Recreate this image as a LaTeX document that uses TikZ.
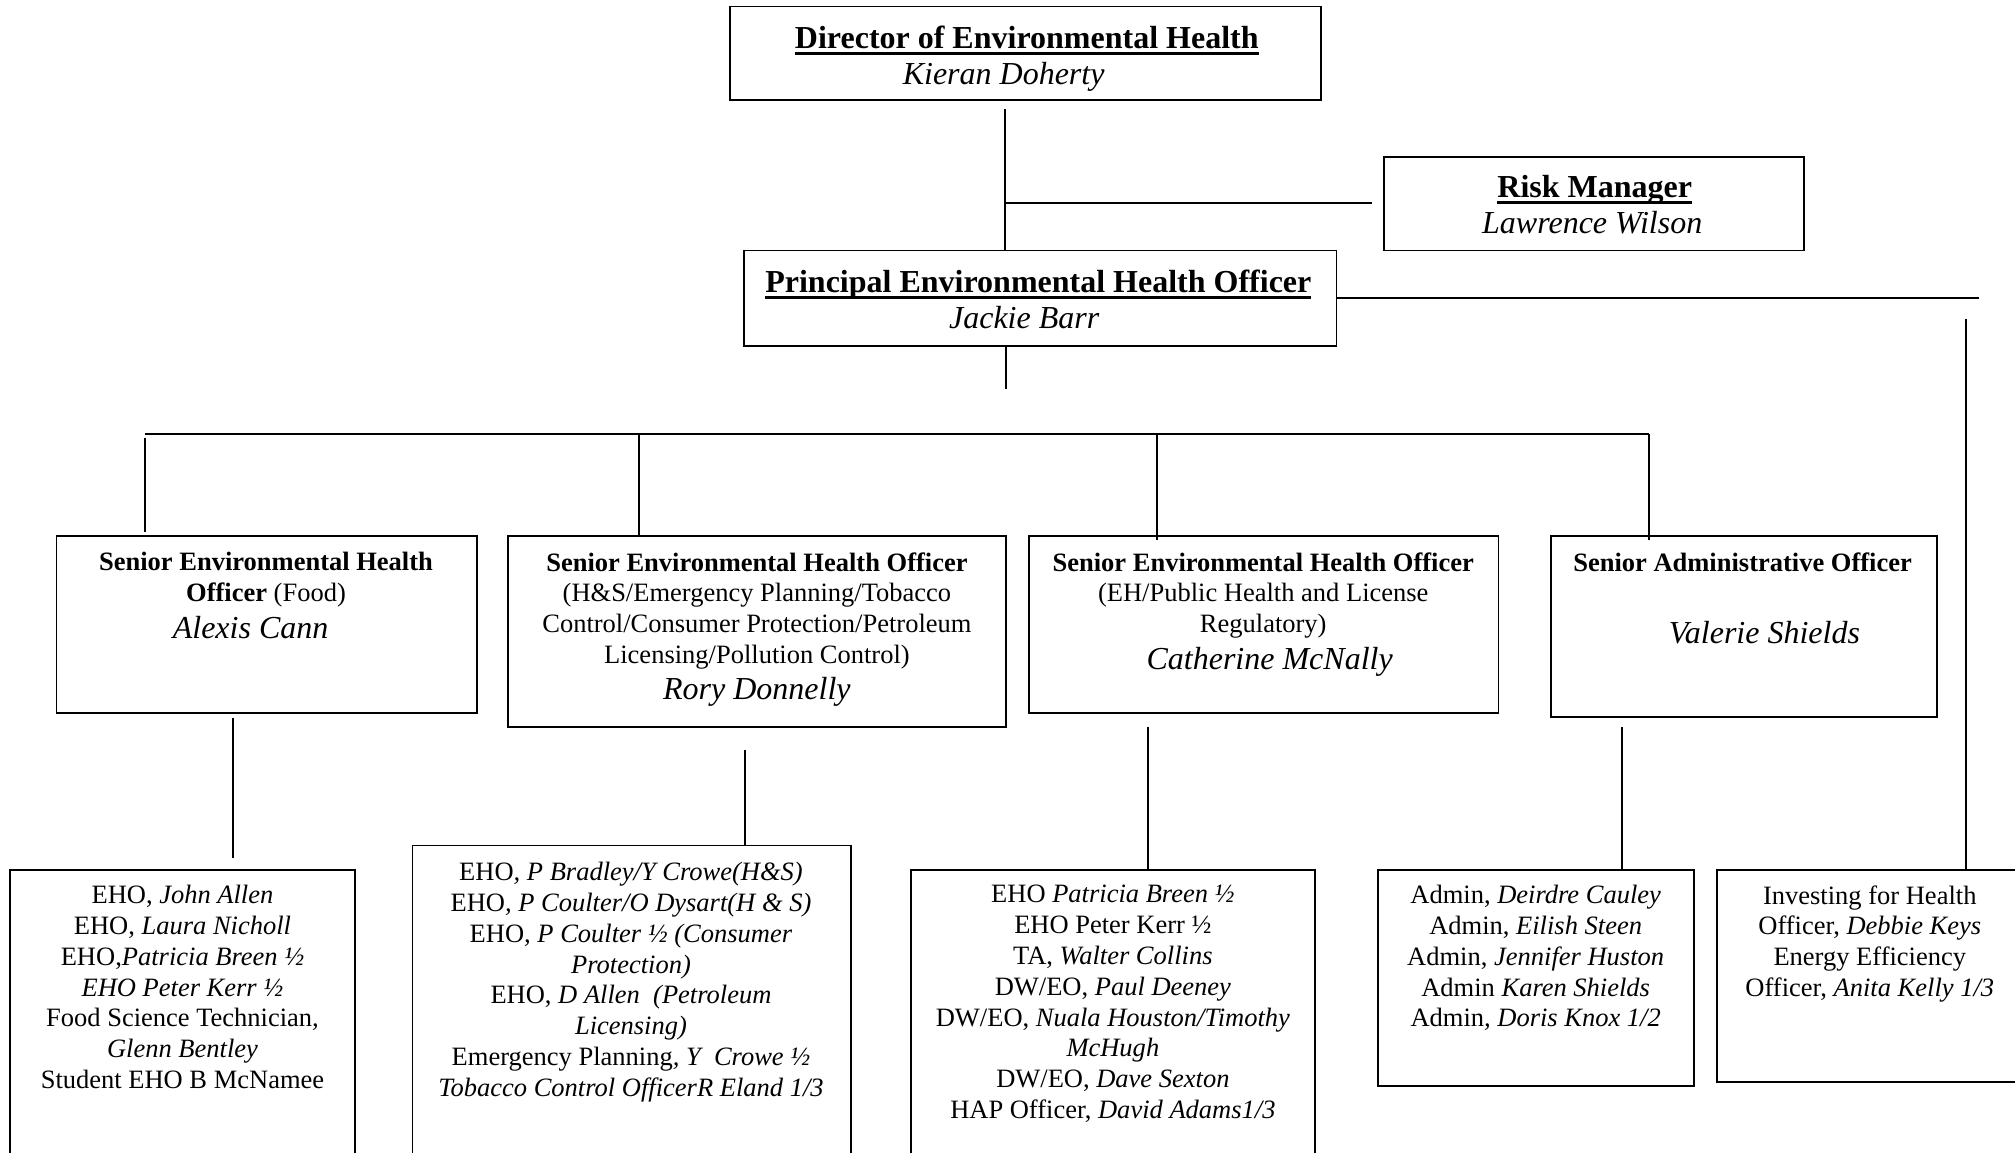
\documentclass[tikz,border=0pt]{standalone}
\usepackage{fontspec}
\setmainfont{Liberation Serif}
\usetikzlibrary{fit}
\newcommand\myul[1]{\setbox0\hbox{#1}\rlap{\vrule width\wd0 height -3.5pt depth 6.5pt}\box0}
\begin{document}
\begin{tikzpicture}[x=1.285pt,y=-1.285pt,
  frame/.style={draw, line width=1.8pt, inner sep=0pt},
  conn/.style={line width=2pt},
  body/.style={font=\fontsize{26.5}{30.8}\selectfont, align=center, inner sep=0pt, anchor=north},
  title/.style={font=\fontsize{32}{36}\selectfont, align=center, inner sep=0pt, anchor=north},
]
\useasboundingbox (0,0) rectangle (1568,897);
\fill[white] (0,0) rectangle (1568,897);
\clip (0,0) rectangle (1568,897);

% boxes
\node[frame, fit={(568,5) (1028,78)}] (dir) {};
\node[frame, fit={(1077,122) (1404,195)}] (risk) {};
\node[frame, fit={(579,195) (1040,269)}] (peho) {};
\node[frame, fit={(44,417) (371,555)}] (s1) {};
\node[frame, fit={(395,417) (783,566)}] (s2) {};
\node[frame, fit={(801,417) (1166,555)}] (s3) {};
\node[frame, fit={(1207,417) (1507,558)}] (s4) {};
\node[frame, fit={(8,677) (276,915)}] (e1) {};
\node[frame, fit={(321,658) (662,915)}] (e2) {};
\node[frame, fit={(709,677) (1023,915)}] (e3) {};
\node[frame, fit={(1072,677) (1318,845)}] (adm) {};
\node[frame, fit={(1336,677) (1576,842)}] (inv) {};

% texts
\node[title] (dirT) at (799,20.2) {\myul{\textbf{Director of Environmental Health}}};
\node[title] (dirN) at (781,48.2) {\textit{Kieran Doherty}};
\node[title] (riskT) at (1241,136.2) {\myul{\textbf{Risk Manager}}};
\node[title] (riskN) at (1239,164.2) {\textit{Lawrence Wilson}};
\node[title] (pehoT) at (808,210.2) {\myul{\textbf{Principal Environmental Health Officer}}};
\node[title] (pehoN) at (797,238.2) {\textit{Jackie Barr}};

\node[body] (s1T) at (207,429.8) {\textbf{Senior Environmental Health}\\\textbf{Officer} (Food)};
\node[title] (s1N) at (195,479.2) {\textit{Alexis Cann}};
\node[body] (s2T) at (589,429.8) {\textbf{Senior Environmental Health Officer}\\(H\&S/Emergency Planning/Tobacco\\Control/Consumer Protection/Petroleum\\Licensing/Pollution Control)};
\node[title] (s2N) at (589,527.2) {\textit{Rory Donnelly}};
\node[body] (s3T) at (983,429.8) {\textbf{Senior Environmental Health Officer}\\(EH/Public Health and License\\Regulatory)};
\node[title] (s3N) at (988,503.2) {\textit{Catherine McNally}};
\node[body] (s4T) at (1356,429.8) {\textbf{Senior Administrative Officer}};
\node[title] (s4N) at (1373,483.2) {\textit{Valerie Shields}};

\node[body] (e1T) at (142,688.8) {EHO, \textit{John Allen}\\EHO, \textit{Laura Nicholl}\\EHO,\textit{Patricia Breen ½}\\\textit{EHO Peter Kerr ½}\\Food Science Technician\textit{,}\\\textit{Glenn Bentley}\\Student EHO B McNamee};
\node[body] (e2T) at (491,670.8) {EHO\textit{, P Bradley/Y Crowe(H\&S)}\\EHO\textit{, P Coulter/O Dysart(H \& S)}\\EHO\textit{, P Coulter ½ (Consumer}\\\textit{Protection)}\\EHO, \textit{D Allen\ \ (Petroleum}\\\textit{Licensing)}\\Emergency Planning\textit{, Y\ \ Crowe ½}\\\textit{Tobacco Control OfficerR Eland 1/3}};
\node[body] (e3T) at (866,688.8) {EHO \textit{Patricia Breen ½}\\EHO Peter Kerr ½\\TA, \textit{Walter Collins}\\DW/EO, \textit{Paul Deeney}\\DW/EO, \textit{Nuala Houston/Timothy}\\\textit{McHugh}\\DW/EO, \textit{Dave Sexton}\\HAP Officer, \textit{David Adams1/3}};
\node[body] (admT) at (1195,688.8) {Admin, \textit{Deirdre Cauley}\\Admin, \textit{Eilish Steen}\\Admin, \textit{Jennifer Huston}\\Admin \textit{Karen Shields}\\Admin\textit{, Doris Knox 1/2}};
\node[body] (invT) at (1455,688.8) {Investing for Health\\Officer, \textit{Debbie Keys}\\Energy Efficiency\\Officer, \textit{Anita Kelly 1/3}};

% connectors
\coordinate (c1) at (782,85);
\draw[conn] (c1) -- (c1 |- peho.north);
\coordinate (c2) at (782,158);
\coordinate (c3) at (1068,158);
\draw[conn] (c2) -- (c3);
\coordinate (c4) at (1540,232);
\draw[conn] (peho.east) -- (c4);
\coordinate (c5) at (1530,248);
\draw[conn] (c5) -- (c5 |- inv.north);
\coordinate (c6) at (783,303);
\draw[conn] (c6 |- peho.south) -- (c6);
\coordinate (b1) at (113,338);
\coordinate (b2) at (1283,338);
\draw[conn] (b1) -- (b2);
\coordinate (d1a) at (113,341); \coordinate (d1b) at (113,414);
\draw[conn] (d1a) -- (d1b);
\coordinate (d2a) at (497,338);
\draw[conn] (d2a) -- (d2a |- s2.north);
\coordinate (d3a) at (900,338); \coordinate (d3b) at (900,420);
\draw[conn] (d3a) -- (d3b);
\coordinate (d4a) at (1283,338); \coordinate (d4b) at (1283,420);
\draw[conn] (d4a) -- (d4b);
\coordinate (l1a) at (181,559); \coordinate (l1b) at (181,668);
\draw[conn] (l1a) -- (l1b);
\coordinate (l2a) at (580,584);
\draw[conn] (l2a) -- (l2a |- e2.north);
\coordinate (l3a) at (893,566);
\draw[conn] (l3a) -- (l3a |- e3.north);
\coordinate (l4a) at (1262,566);
\draw[conn] (l4a) -- (l4a |- adm.north);
\end{tikzpicture}
\end{document}
